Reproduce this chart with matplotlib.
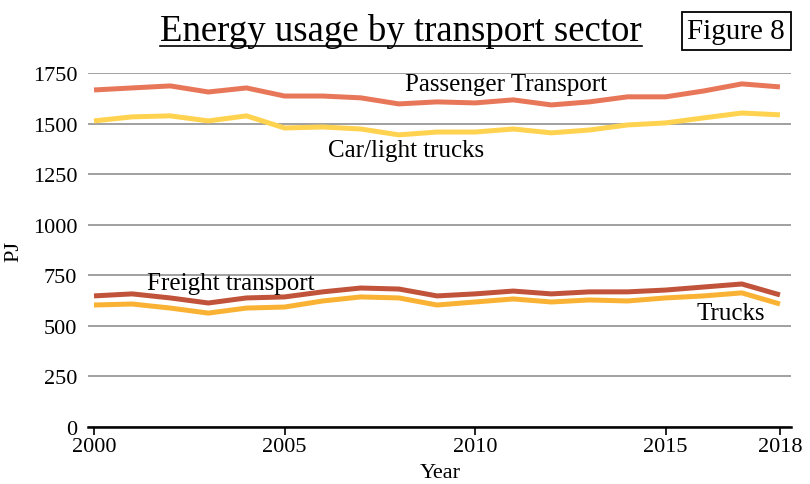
import numpy as np
import matplotlib.pyplot as plt

plt.rcParams['font.family'] = ['Liberation Serif', 'DejaVu Serif']

# data (PJ)
years = np.arange(2000, 2019)
passenger = [1666, 1676, 1686, 1656, 1676, 1636, 1636, 1627, 1597, 1607,
             1602, 1617, 1592, 1607, 1632, 1632, 1661, 1696, 1681]
car_light = [1513, 1533, 1538, 1513, 1538, 1478, 1483, 1473, 1444, 1458,
             1458, 1473, 1454, 1468, 1493, 1503, 1528, 1552, 1543]
freight = [648, 658, 638, 613, 638, 643, 668, 687, 682, 648,
           658, 672, 658, 668, 668, 677, 692, 707, 653]
trucks = [603, 608, 588, 563, 588, 593, 623, 643, 638, 603,
          618, 633, 618, 628, 623, 638, 648, 663, 608]

xticks = [2000, 2005, 2010, 2015, 2018]
yticks = [0, 250, 500, 750, 1000, 1250, 1500, 1750]

fig = plt.figure(figsize=(8.1, 4.85), dpi=100)
ax = fig.add_axes([0.109, 0.1175, 0.868, 0.73])

lw = 3.6
ax.plot(years, passenger, color='#E8775A', lw=lw, solid_capstyle='butt', zorder=3)
ax.plot(years, car_light, color='#FFD24F', lw=lw, solid_capstyle='butt', zorder=3)
ax.plot(years, freight, color='#C0533A', lw=lw, solid_capstyle='butt', zorder=3)
ax.plot(years, trucks, color='#F9B233', lw=lw, solid_capstyle='butt', zorder=3)

ax.set_xlim(1999.85, 2018.3)
ax.set_ylim(0, 1750)
ax.set_xticks(xticks)
ax.set_yticks(yticks)
ax.tick_params(axis='x', length=6, width=1.2, labelsize=16, pad=1)
ax.tick_params(axis='y', length=0, labelsize=16, pad=8)

ax.grid(axis='y', color='#999999', lw=1.3, zorder=1)
for s in ['top', 'right', 'left']:
    ax.spines[s].set_visible(False)
ax.spines['bottom'].set_linewidth(1.8)
ax.spines['bottom'].set_zorder(4)

ax.set_xlabel('Year', fontsize=16, labelpad=5)
ax.set_ylabel('PJ', fontsize=16, labelpad=7)

# line labels
ax.text(2010.8, 1695, 'Passenger Transport', fontsize=18, ha='center', va='center')
ax.text(2008.2, 1369, 'Car/light trucks', fontsize=18, ha='center', va='center')
ax.text(2003.6, 711, 'Freight transport', fontsize=18, ha='center', va='center')
ax.text(2016.7, 564, 'Trucks', fontsize=18, ha='center', va='center')

# title with underline, and boxed figure number
t = fig.text(0.495, 0.935, 'Energy usage by transport sector', fontsize=26.5,
             ha='center', va='center')
fig.canvas.draw()
bb = t.get_window_extent().transformed(fig.transFigure.inverted())
fig.add_artist(plt.Line2D([bb.x0, bb.x1], [bb.y0 + 0.004, bb.y0 + 0.004],
                          transform=fig.transFigure, color='black', lw=1.2))
fig.text(0.909, 0.934, 'Figure 8', fontsize=21, ha='center', va='center',
         bbox=dict(boxstyle='square,pad=0.2', fc='white', ec='black', lw=1.3))

fig.savefig('out.png', dpi=100)
